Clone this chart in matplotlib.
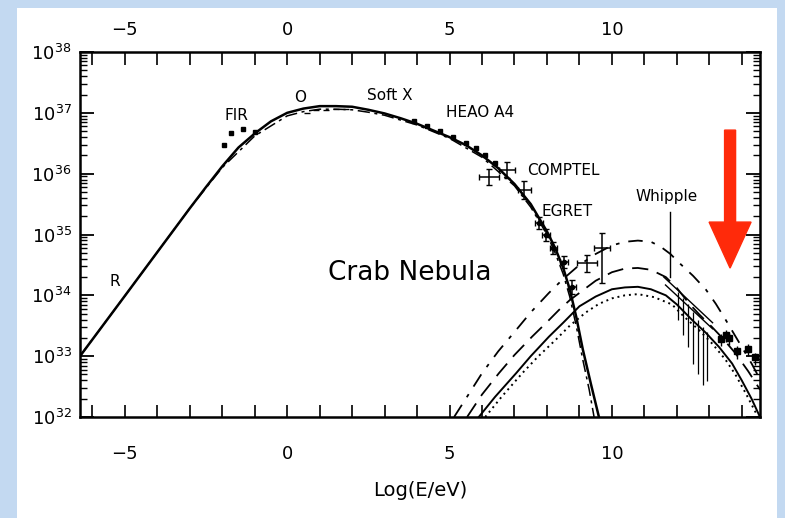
import numpy as np
import matplotlib
matplotlib.use("Agg")
import matplotlib.pyplot as plt
from matplotlib.patches import Rectangle, FancyArrow
from matplotlib.ticker import FixedLocator, MultipleLocator, LogLocator, NullFormatter

plt.rcParams['font.family'] = ['DejaVu Sans']

# ---------------- data (log10 E/eV , log10 luminosity) ----------------
sync_x = [-6.38, -5.0, -4.0, -3.0, -2.5, -2.0, -1.5, -1.0, -0.5, 0.0, 0.5, 1.0, 1.5, 2.0,
          2.5, 3.0, 3.5, 4.0, 4.5, 5.0, 5.5, 6.0, 6.5, 7.0, 7.5, 8.0, 8.25, 8.5, 8.7, 8.9, 9.1, 9.35, 9.6]
sync_y = [33.0, 33.99, 34.71, 35.43, 35.78, 36.12, 36.43, 36.66, 36.86, 37.0, 37.07, 37.11, 37.11, 37.1,
          37.05, 36.99, 36.91, 36.82, 36.71, 36.6, 36.47, 36.3, 36.09, 35.83, 35.5, 35.05, 34.78, 34.45,
          34.1, 33.65, 33.12, 32.55, 32.0]

sync2_x = [-6.38, -5.0, -4.0, -3.0, -2.0, -1.0, 0.0, 0.5, 1.0, 1.5, 2.0, 2.5, 3.0, 4.0,
           5.0, 6.0, 7.0, 7.5, 8.0, 8.25, 8.5, 8.7, 8.9, 9.1, 9.3, 9.45]
sync2_y = [33.0, 33.99, 34.71, 35.43, 36.1, 36.62, 36.95, 37.02, 37.06, 37.06, 37.05, 37.01, 36.96, 36.8,
           36.58, 36.27, 35.8, 35.45, 35.0, 34.7, 34.35, 33.98, 33.5, 32.95, 32.45, 32.0]

ic_dashdot_x = [5.14, 5.5, 6.0, 6.5, 7.05, 7.5, 8.06, 8.5, 9.0, 9.5, 10.0, 10.4, 10.8, 11.2, 11.5,
                11.8, 12.1, 12.5, 12.9, 13.2, 13.5, 14.0, 14.3, 14.56]
ic_dashdot_y = [32.0, 32.3, 32.72, 33.08, 33.43, 33.72, 34.04, 34.27, 34.5, 34.68, 34.82, 34.88, 34.9,
                34.88, 34.8, 34.68, 34.52, 34.32, 34.09, 33.86, 33.6, 33.15, 32.88, 32.62]

ic_dashed_x = [5.54, 6.0, 6.52, 7.0, 7.54, 8.0, 8.37, 8.7, 9.1, 9.5, 10.0, 10.4, 10.8, 11.2, 11.66,
               12.0, 12.37, 12.7, 13.08, 13.4, 13.8, 14.2, 14.56]
ic_dashed_y = [32.0, 32.37, 32.72, 33.02, 33.32, 33.56, 33.76, 33.92, 34.08, 34.24, 34.38, 34.44, 34.45,
               34.42, 34.3, 34.12, 33.87, 33.68, 33.48, 33.3, 33.05, 32.75, 32.45]

ic_solid_x = [5.9, 6.4, 7.05, 7.5, 8.06, 8.5, 9.0, 9.5, 10.0, 10.4, 10.8, 11.2, 11.66, 12.0, 12.46,
              12.9, 13.3, 13.7, 14.0, 14.3, 14.56]
ic_solid_y = [32.0, 32.33, 32.72, 33.0, 33.32, 33.55, 33.82, 33.98, 34.1, 34.13, 34.14, 34.1, 34.0,
              33.85, 33.6, 33.38, 33.15, 32.88, 32.6, 32.3, 32.0]

ic_dotted_x = [6.1, 6.6, 7.24, 7.7, 8.27, 8.7, 9.2, 9.6, 10.0, 10.4, 10.8, 11.3, 11.85, 12.2, 12.68,
               13.1, 13.5, 13.8, 14.12, 14.5]
ic_dotted_y = [32.0, 32.33, 32.72, 32.98, 33.27, 33.5, 33.72, 33.86, 33.95, 34.0, 34.02, 33.97, 33.85,
               33.66, 33.43, 33.2, 32.94, 32.7, 32.39, 32.0]

fir_x = [-1.94, -1.72, -1.35, -0.98]
fir_y = [36.47, 36.67, 36.73, 36.68]

xray_x = [3.9, 4.3, 4.7, 5.1, 5.5, 5.8, 6.1, 6.4]
xray_y = [36.86, 36.78, 36.7, 36.6, 36.5, 36.42, 36.3, 36.18]

opt_x = [0.6, 0.9, 1.2, 1.5, 1.8]
opt_y = [37.0, 37.04, 37.05, 37.06, 37.07]

gam_x = [6.22, 6.77, 7.3, 7.75, 7.97, 8.2, 8.52, 8.77, 9.23, 9.7]
gam_y = [35.95, 36.06, 35.73, 35.19, 34.99, 34.78, 34.55, 34.14, 34.53, 34.78]
gam_xerr = [0.3, 0.25, 0.2, 0.12, 0.12, 0.12, 0.12, 0.12, 0.3, 0.25]
gam_yerr_lo = [0.13, 0.13, 0.15, 0.1, 0.1, 0.1, 0.1, 0.12, 0.14, 0.58]
gam_yerr_hi = [0.13, 0.13, 0.15, 0.1, 0.1, 0.1, 0.1, 0.12, 0.14, 0.25]

whip_x = [12.05, 12.2, 12.35, 12.5, 12.65, 12.8, 12.92]
whip_y = [33.95, 33.85, 33.75, 33.62, 33.5, 33.38, 33.3]
whip_lo = [0.35, 0.5, 0.6, 0.75, 0.8, 0.85, 0.7]
whip_hi = [0.1, 0.1, 0.1, 0.1, 0.1, 0.1, 0.1]

hegra_x = [13.35, 13.5, 13.62, 13.85, 14.2, 14.4]
hegra_y = [33.28, 33.35, 33.3, 33.08, 33.12, 32.98]

p = lambda v: 10.0 ** np.asarray(v)

# ---------------- figure ----------------
fig = plt.figure(figsize=(7.85, 5.18), dpi=100)
fig.patch.set_facecolor('#c3d9f1')
fig.add_artist(Rectangle((17 / 785, 0), 760 / 785, 1 - 8 / 518, transform=fig.transFigure,
                         facecolor='white', edgecolor='none', zorder=0))

ax = fig.add_axes([80 / 785, 1 - 417 / 518, 680 / 785, 365 / 518])
ax.set_facecolor('white')
ax.set_yscale('log')
ax.set_xlim(-6.38, 14.56)
ax.set_ylim(1e32, 1e38)

k = 'black'
ax.plot(sync_x, p(sync_y), color=k, lw=1.8, zorder=3)
ax.plot(sync2_x, p(sync2_y), color=k, lw=1.1, ls=(0, (8, 3, 2, 3)), zorder=3)
ax.plot(ic_dashdot_x, p(ic_dashdot_y), color=k, lw=1.3, ls=(0, (8, 5, 2, 5)))
ax.plot(ic_dashed_x, p(ic_dashed_y), color=k, lw=1.3, ls=(0, (9, 5)))
ax.plot(ic_solid_x, p(ic_solid_y), color=k, lw=1.4)
ax.plot(ic_dotted_x, p(ic_dotted_y), color=k, lw=1.4, ls=(0, (1, 2)))

ax.plot(fir_x, p(fir_y), 's', color=k, ms=3.5)
ax.plot(xray_x, p(xray_y), 's', color=k, ms=2.2)
ax.plot(opt_x, p(opt_y), '_', color=k, ms=4)

gy = np.array(gam_y)
ax.errorbar(gam_x, p(gy),
            xerr=gam_xerr,
            yerr=[p(gy) - p(gy - np.array(gam_yerr_lo)), p(gy + np.array(gam_yerr_hi)) - p(gy)],
            fmt='none', ecolor=k, elinewidth=1.1, capsize=2.5, capthick=1.0)
ax.plot(gam_x[3:8], p(gam_y[3:8]), 'o', color=k, ms=3)

wy = np.array(whip_y)
ax.errorbar(whip_x, p(wy),
            yerr=[p(wy) - p(wy - np.array(whip_lo)), p(wy + np.array(whip_hi)) - p(wy)],
            fmt='none', ecolor=k, elinewidth=0.9)
ax.plot([11.6, 13.1], p([34.3, 33.55]), color=k, lw=1.0)
ax.plot([11.65, 13.1], p([34.17, 33.45]), color=k, lw=1.0)

ax.plot(hegra_x, p(hegra_y), 's', color=k, ms=4)
ax.errorbar(hegra_x, p(hegra_y), yerr=[p(hegra_y) - p(np.array(hegra_y) - 0.12),
                                       p(np.array(hegra_y) + 0.08) - p(hegra_y)],
            fmt='none', ecolor=k, elinewidth=1.0)

# Whipple pointer line
ax.plot([11.78, 11.78], p([35.37, 34.3]), color=k, lw=1.0)

# labels
fs = 11
ax.text(-5.31, p(34.22), 'R', fontsize=fs, ha='center', va='center')
ax.text(-1.55, p(36.96), 'FIR', fontsize=fs, ha='center', va='center')
ax.text(0.39, p(37.26), 'O', fontsize=fs, ha='center', va='center')
ax.text(3.16, p(37.28), 'Soft X', fontsize=fs, ha='center', va='center')
ax.text(5.93, p(37.0), 'HEAO A4', fontsize=fs, ha='center', va='center')
ax.text(8.49, p(36.06), 'COMPTEL', fontsize=fs, ha='center', va='center')
ax.text(8.61, p(35.37), 'EGRET', fontsize=fs, ha='center', va='center')
ax.text(11.69, p(35.62), 'Whipple', fontsize=fs, ha='center', va='center')
ax.text(3.78, p(34.37), 'Crab Nebula', fontsize=19, ha='center', va='center')

ax.set_xlabel('Log(E/eV)', fontsize=14, labelpad=13)

# ticks
major_x = [-5, 0, 5, 10]
ax.xaxis.set_major_locator(FixedLocator(major_x))
ax.xaxis.set_minor_locator(MultipleLocator(1))
ax.yaxis.set_major_locator(LogLocator(base=10, numticks=10))
ax.yaxis.set_minor_locator(LogLocator(base=10, subs=np.arange(2, 10), numticks=20))
ax.yaxis.set_minor_formatter(NullFormatter())
ax.tick_params(axis='x', which='both', direction='in', top=True, bottom=True,
               labeltop=False, labelbottom=True, length=9, width=1.2, labelsize=13, pad=20)
ax.tick_params(axis='y', which='major', direction='in', left=True, right=True,
               length=10, width=1.3, labelsize=13, pad=6)
ax.tick_params(axis='y', which='minor', direction='in', left=True, right=True,
               length=5, width=1.0)
for s in ax.spines.values():
    s.set_linewidth(1.8)

sec = ax.secondary_xaxis('top')
sec.set_xticks(major_x)
sec.tick_params(axis='x', which='both', length=0, labelsize=13, pad=9)
sec.spines['top'].set_visible(False)

# red arrow
ax.add_patch(FancyArrow(0.956, 0.786, 0, -(0.786 - 0.408), width=11 / 680, head_width=42 / 680,
                        head_length=46 / 365, length_includes_head=True, transform=ax.transAxes,
                        clip_on=False, color='#ff2a0a', zorder=10))

fig.savefig('out.png', dpi=100)
